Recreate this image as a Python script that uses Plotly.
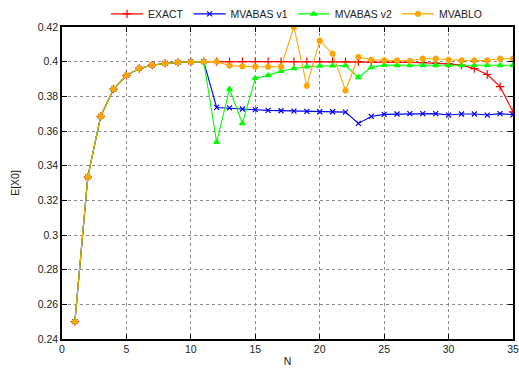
import plotly.graph_objects as go

N = list(range(1, 36))

common = [0.25, 0.3334, 0.3684, 0.3842, 0.3921, 0.3961, 0.3981, 0.3990, 0.3996, 0.3999, 0.4000]

exact = common + [0.4000, 0.4000, 0.4000, 0.4000, 0.4000, 0.4000, 0.4000, 0.4000, 0.4000,
                  0.4000, 0.4000, 0.4000, 0.3999, 0.3998, 0.3997, 0.3996, 0.3994, 0.3992,
                  0.3987, 0.3980, 0.3960, 0.3926, 0.3856, 0.3710]

mvabas_v1 = common + [0.3736, 0.3733, 0.3727, 0.3723, 0.3719, 0.3717, 0.3715, 0.3713, 0.3711,
                      0.3711, 0.3709, 0.3644, 0.3684, 0.3696, 0.3698, 0.3700, 0.3700, 0.3700,
                      0.3692, 0.3698, 0.3698, 0.3692, 0.3700, 0.3694]

mvabas_v2 = common + [0.3536, 0.3842, 0.3644, 0.3905, 0.3921, 0.3946, 0.3961, 0.3971, 0.3975,
                      0.3977, 0.3978, 0.3909, 0.3967, 0.3980, 0.3979, 0.3979, 0.3979, 0.3979,
                      0.3979, 0.3979, 0.3979, 0.3979, 0.3979, 0.3979]

mvablo = common + [0.4000, 0.3977, 0.3973, 0.3971, 0.3971, 0.3971, 0.4200, 0.3861, 0.4121,
                   0.4046, 0.3834, 0.4027, 0.4011, 0.4007, 0.4007, 0.4005, 0.4017, 0.4017,
                   0.4011, 0.4007, 0.4007, 0.4007, 0.4017, 0.4017]

series_names = ["EXACT", "MVABAS v1", "MVABAS v2", "MVABLO"]
series_values = [exact, mvabas_v1, mvabas_v2, mvablo]
colors = ["#ff0000", "#0000ff", "#00ff00", "#ffa500"]
symbols = ["cross-thin-open", "x-thin-open", "triangle-up", "circle"]
sizes = [6, 5, 5, 5]

x_ticks = [0, 5, 10, 15, 20, 25, 30, 35]
y_ticks = [0.24, 0.26, 0.28, 0.3, 0.32, 0.34, 0.36, 0.38, 0.4, 0.42]
y_tick_labels = ["0.24", "0.26", "0.28", "0.3", "0.32", "0.34", "0.36", "0.38", "0.4", "0.42"]

FONT = "Liberation Sans, Arial, sans-serif"
FS = 10.5

fig = go.Figure()
for name, vals, col, sym, sz in zip(series_names, series_values, colors, symbols, sizes):
    fig.add_trace(go.Scatter(
        x=N, y=vals, name=name, mode="lines+markers",
        line=dict(color=col, width=1.1),
        marker=dict(symbol=sym, size=sz, color=col, line=dict(color=col, width=1.2)),
    ))

axis_common = dict(
    showline=True, linecolor="black", linewidth=1.5, mirror="allticks",
    ticks="inside", ticklen=5, tickcolor="black",
    showgrid=True, gridcolor="#8a8a8a", griddash="dot", gridwidth=1,
    zeroline=False, tickfont=dict(family=FONT, size=FS, color="#222"),
)

fig.update_xaxes(range=[0, 35], tickvals=x_ticks,
                 title=dict(text="N", standoff=3, font=dict(family=FONT, size=FS, color="#222")),
                 **axis_common)
fig.update_yaxes(range=[0.24, 0.42], tickvals=y_ticks, ticktext=y_tick_labels,
                 title=dict(text="E[X0]", standoff=16, font=dict(family=FONT, size=FS, color="#222")),
                 **axis_common)

fig.update_layout(
    width=519, height=374,
    margin=dict(l=62, r=6, t=27, b=35, autoexpand=False),
    plot_bgcolor="white", paper_bgcolor="white",
    font=dict(family=FONT, size=FS, color="#222"),
    legend=dict(orientation="h", x=0.52, xanchor="center", y=1.042, yanchor="middle",
                font=dict(family=FONT, size=FS, color="#222"), itemwidth=32,
                bgcolor="rgba(0,0,0,0)"),
    showlegend=True,
)

fig.write_html("out.html", config={"displayModeBar": False},
               post_script="document.body.style.margin='0';")
